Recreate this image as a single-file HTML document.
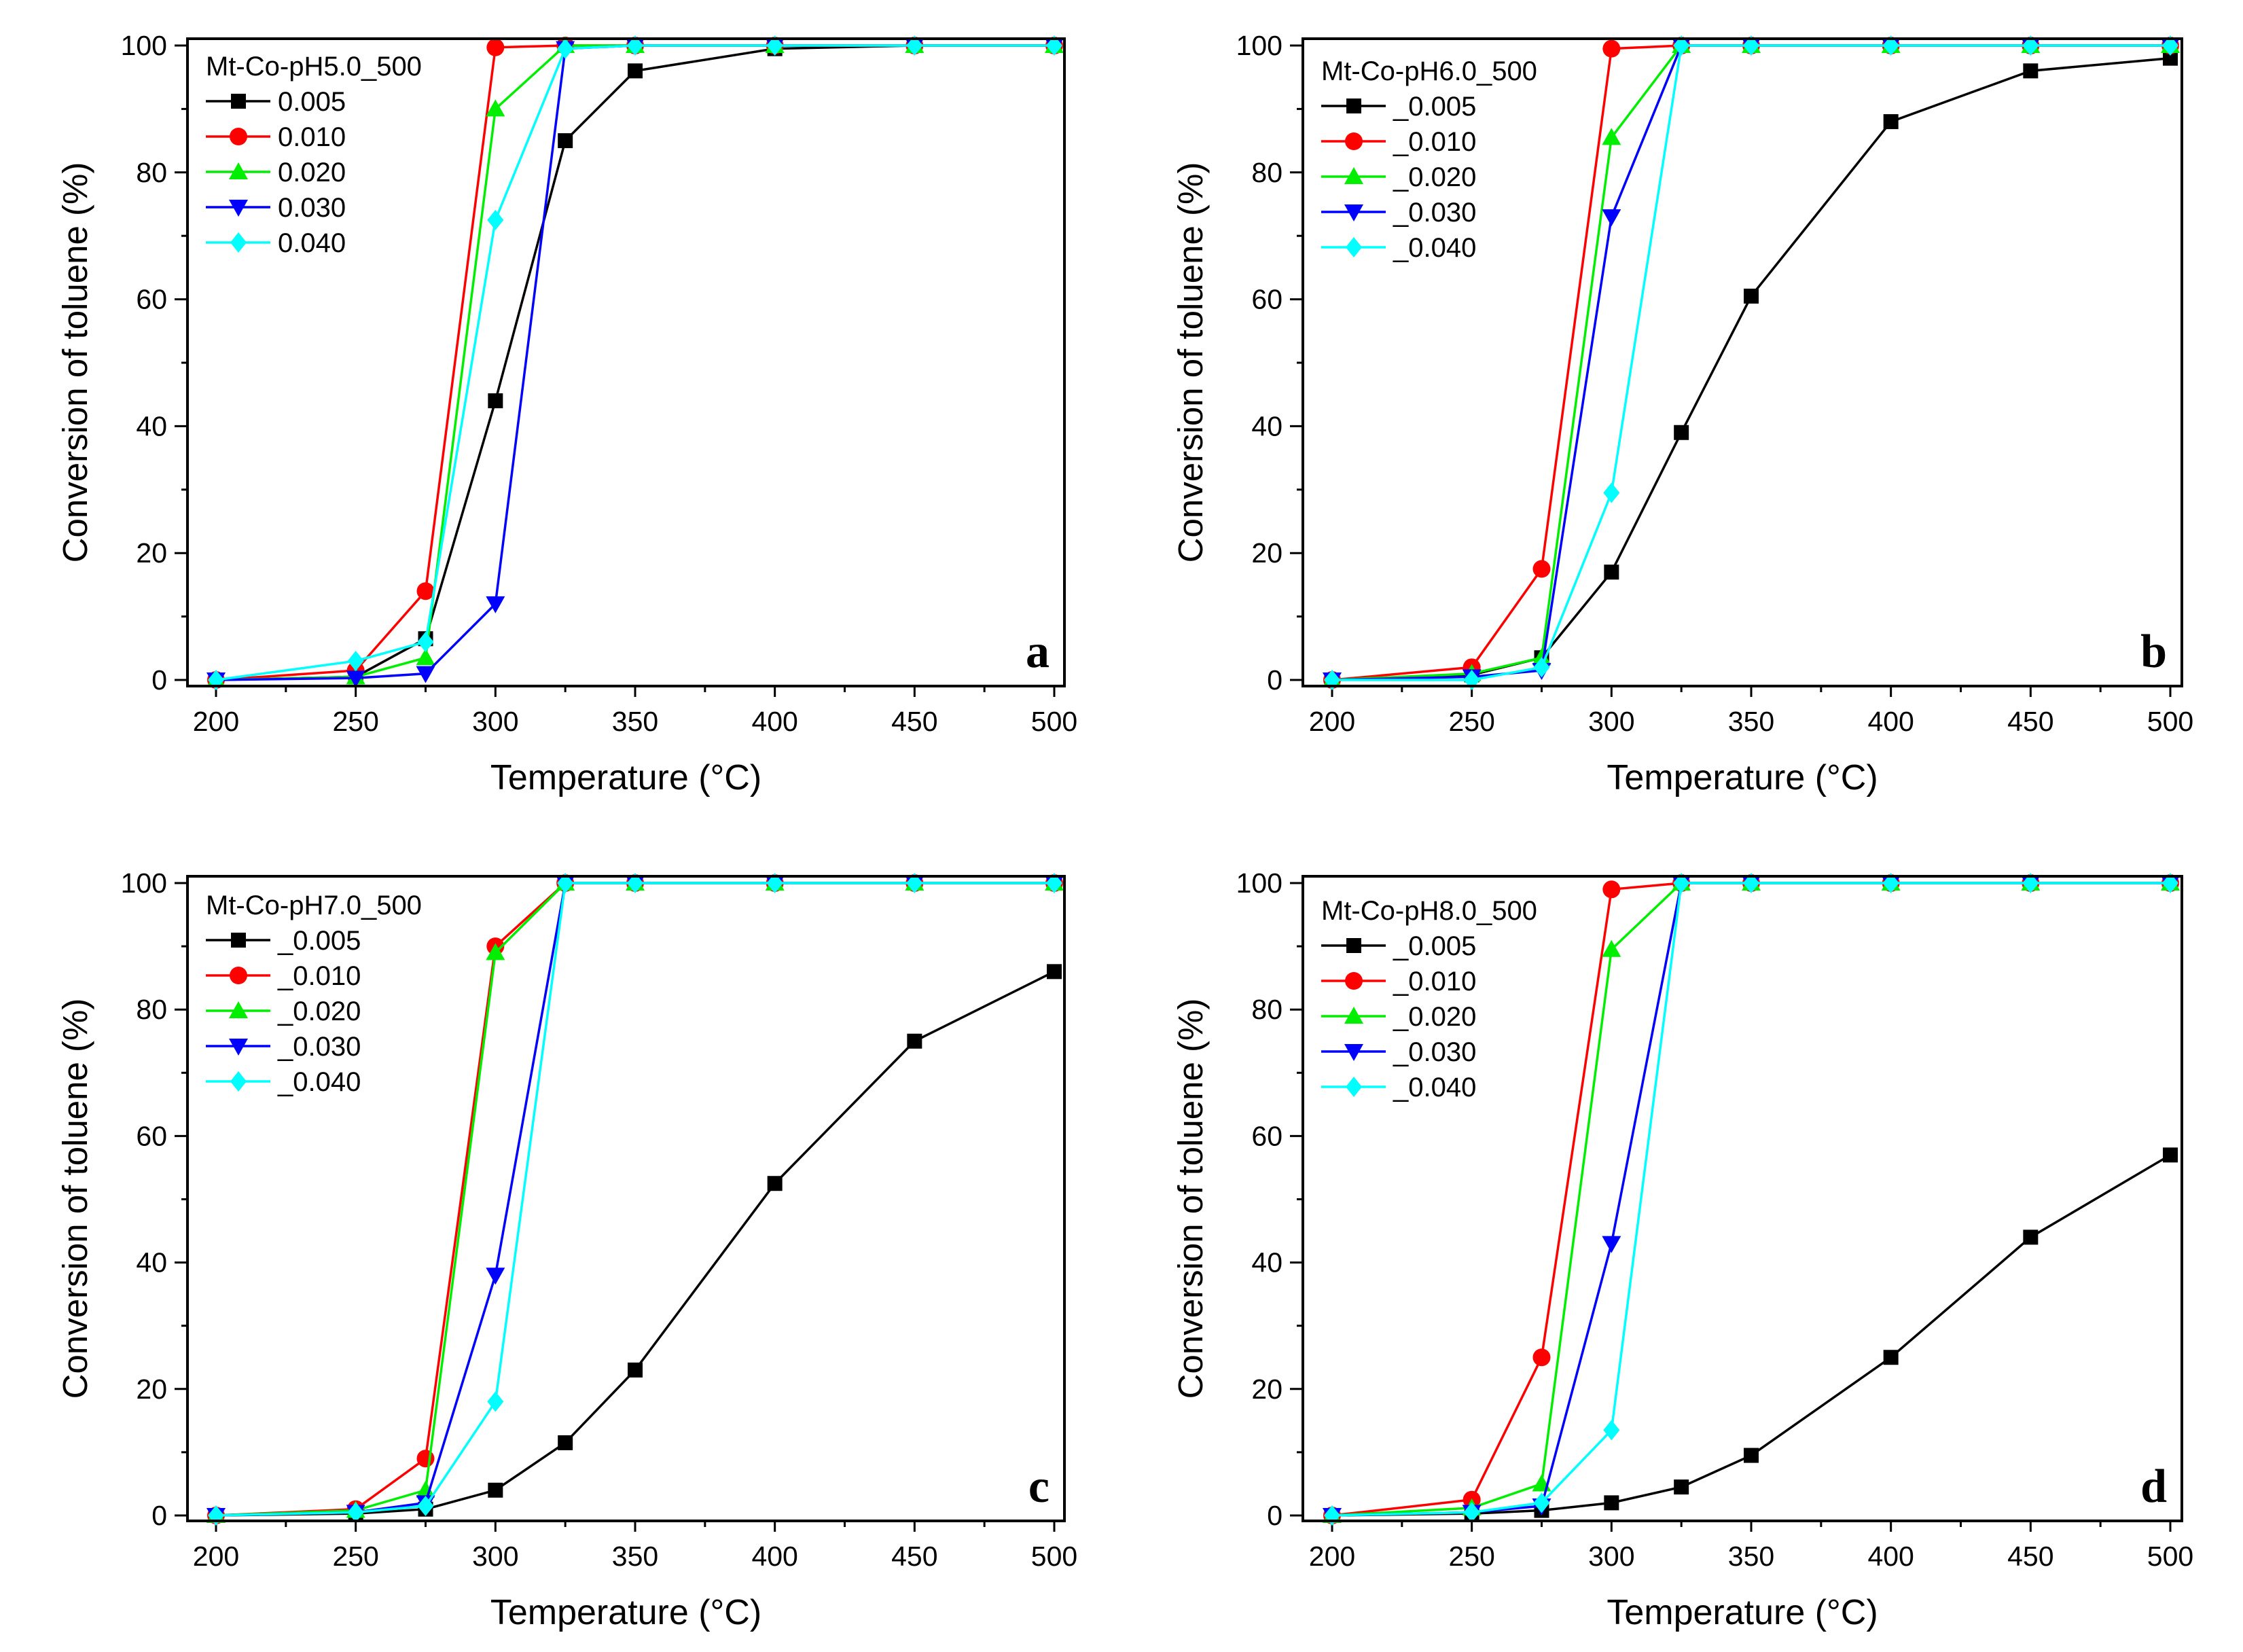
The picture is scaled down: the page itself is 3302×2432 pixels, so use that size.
<!DOCTYPE html>
<html><head><meta charset="utf-8"><style>
html,body{margin:0;padding:0;background:#fff}
svg{display:block}
text{font-family:"Liberation Sans",sans-serif}
text.letter{font-family:"Liberation Serif",serif;font-weight:bold}
</style></head><body>
<svg id="fig" width="3302" height="2432" viewBox="0 0 3302 2432" xmlns="http://www.w3.org/2000/svg"></svg>
<script>
const temps = [200,250,275,300,325,350,400,450,500];
const seriesNames = ["0.005","0.010","0.020","0.030","0.040"];
const seriesColors = ["#000000","#ff0000","#00ee00","#0000ff","#00ffff"];
const xTicks = [200,250,300,350,400,450,500];
const yTicks = [0,20,40,60,80,100];
const panelTitles = ["Mt-Co-pH5.0_500","Mt-Co-pH6.0_500","Mt-Co-pH7.0_500","Mt-Co-pH8.0_500"];
const panelLetters = ["a","b","c","d"];
const prefixes = ["","_","_","_"];
const aS005 = [0,0.5,6.5,44,85,96,99.5,100,100];
const aS010 = [0,1.5,14,99.7,100,100,100,100,100];
const aS020 = [0,0.5,3.5,90,100,100,100,100,100];
const aS030 = [0,0.3,1,12,99.5,100,100,100,100];
const aS040 = [0,3,6,72.5,99.5,100,100,100,100];
const bS005 = [0,0.8,3.5,17,39,60.5,88,96,98];
const bS010 = [0,2,17.5,99.5,100,100,100,100,100];
const bS020 = [0,1,3.5,85.5,100,100,100,100,100];
const bS030 = [0,0.5,1.5,73,100,100,100,100,100];
const bS040 = [0,0,2,29.5,100,100,100,100,100];
const cS005 = [0,0.3,1,4,11.5,23,52.5,75,86];
const cS010 = [0,1,9,90,100,100,100,100,100];
const cS020 = [0,0.8,4,89,100,100,100,100,100];
const cS030 = [0,0.5,2,38,100,100,100,100,100];
const cS040 = [0,0.5,1.5,18,100,100,100,100,100];
const dS005 = [0,0.3,0.8,2,4.5,9.5,25,44,57];
const dS010 = [0,2.5,25,99,100,100,100,100,100];
const dS020 = [0,1.2,5,89.5,100,100,100,100,100];
const dS030 = [0,0.5,1.5,43,100,100,100,100,100];
const dS040 = [0,0.5,2,13.5,100,100,100,100,100];
const panelData = [[aS005,aS010,aS020,aS030,aS040],[bS005,bS010,bS020,bS030,bS040],[cS005,cS010,cS020,cS030,cS040],[dS005,dS010,dS020,dS030,dS040]];

const layouts = [
 {bl:276,br:1567,bt:57,bb:1010,x0:318,x1:1552,y100:67,y0:1001,lo:40},
 {bl:1918,br:3212,bt:57,bb:1010,x0:1961,x1:3195,y100:67,y0:1001,lo:47},
 {bl:276,br:1567,bt:1290,bb:2239,x0:318,x1:1552,y100:1300,y0:2231,lo:42},
 {bl:1918,br:3212,bt:1290,bb:2239,x0:1961,x1:3195,y100:1300,y0:2231,lo:50}
];
const NS="http://www.w3.org/2000/svg";
const svg=document.getElementById('fig');
function mk(tag,attrs,parent){const e=document.createElementNS(NS,tag);for(const k in attrs)e.setAttribute(k,attrs[k]);(parent||svg).appendChild(e);return e;}
function marker(g,kind,cx,cy,color){
  const s=11;let e;
  if(kind===0)e=mk('rect',{x:cx-s,y:cy-s,width:2*s,height:2*s,fill:color},g);
  else if(kind===1)e=mk('circle',{cx:cx,cy:cy,r:s+2,fill:color},g);
  else if(kind===2)e=mk('polygon',{points:`${cx},${cy-s-3} ${cx+s+3},${cy+s} ${cx-s-3},${cy+s}`,fill:color},g);
  else if(kind===3)e=mk('polygon',{points:`${cx},${cy+s+3} ${cx+s+3},${cy-s} ${cx-s-3},${cy-s}`,fill:color},g);
  else e=mk('polygon',{points:`${cx},${cy-s-4} ${cx+s+1},${cy} ${cx},${cy+s+4} ${cx-s-1},${cy}`,fill:color},g);
  return e;
}
layouts.forEach((L,p)=>{
  const g=mk('g',{});
  
  
  const xs=v=>L.x0+(v-200)/300*(L.x1-L.x0);
  const ys=v=>L.y0+(v)/100*(L.y100-L.y0);
  for(let v=200;v<=500;v+=25){const x=xs(v);const major=v%50===0;
    const t=mk('line',{x1:x,x2:x,y1:L.bb,y2:L.bb+(major?16:9),stroke:'#000','stroke-width':3},g);
    }
  for(let v=0;v<=100;v+=10){const y=ys(v);const major=v%20===0;
    const t=mk('line',{x1:L.bl,x2:L.bl-(major?19:9),y1:y,y2:y,stroke:'#000','stroke-width':3},g);
    }
  xTicks.forEach(v=>{const t=mk('text',{x:xs(v),y:L.bb+66,'font-size':41,'text-anchor':'middle'},g);t.textContent=v;
    });
  yTicks.forEach(v=>{const t=mk('text',{x:L.bl-30,y:ys(v)+14,'font-size':41,'text-anchor':'end'},g);t.textContent=v;
    });
  const xt=mk('text',{x:(L.bl+L.br)/2,y:L.bb+152,'font-size':52,'text-anchor':'middle'},g);xt.textContent='Temperature (°C)';
  
  const ycx=L.bl-166,ycy=(L.bt+L.bb)/2;
  const yt=mk('text',{x:ycx,y:ycy,'font-size':51,'text-anchor':'middle',transform:`rotate(-90 ${ycx} ${ycy})`,dy:18},g);yt.textContent='Conversion of toluene (%)';
  
  panelData[p].forEach((vals,si)=>{
    const sg=mk('g',{},g);
    
    
    const pts=vals.map((v,i)=>xs(temps[i])+','+ys(v)).join(' ');
    mk('polyline',{points:pts,fill:'none',stroke:seriesColors[si],'stroke-width':3.5},sg);
    vals.forEach((v,i)=>{const m=marker(sg,si,xs(temps[i]),ys(v),seriesColors[si]);
      });
  });
  const box=mk('rect',{x:L.bl,y:L.bt,width:L.br-L.bl,height:L.bb-L.bt,fill:'none',stroke:'#000','stroke-width':4},g);
  
  const lg=mk('g',{},g);
  
  const lx=L.bl+27, ly0=L.bt+L.lo;
  const tt=mk('text',{x:lx,y:ly0+14,'font-size':40},lg);tt.textContent=panelTitles[p];
  
  seriesNames.forEach((n,si)=>{
    const y=ly0+52*(si+1);
    const eg=mk('g',{},lg);
    
    mk('line',{x1:lx,x2:lx+95,y1:y,y2:y,stroke:seriesColors[si],'stroke-width':3.5},eg);
    marker(eg,si,lx+48,y,seriesColors[si]);
    const t=mk('text',{x:lx+106,y:y+14,'font-size':40},eg);t.textContent=prefixes[p]+n;
  });
  const lt=mk('text',{x:L.br-22,y:L.bb-28,'font-size':70,'text-anchor':'end','class':'letter'},g);
  lt.textContent=panelLetters[p];
  
});
</script>
</body></html>
